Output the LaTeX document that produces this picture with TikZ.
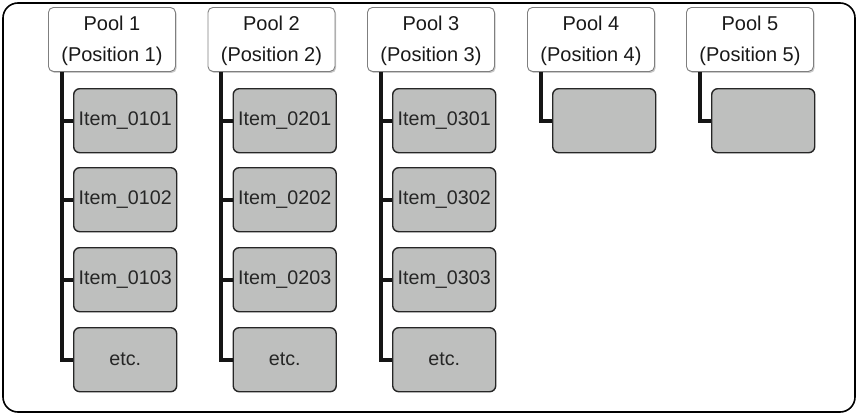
\documentclass[tikz,border=0pt]{standalone}
\usepackage{fontspec}
\setmainfont{Liberation Sans}
\usetikzlibrary{shadows,calc}
\definecolor{itemgray}{HTML}{BEBFBE}
\definecolor{poolline}{HTML}{7F7F7F}
\definecolor{spine}{HTML}{151515}
\begin{document}
\begin{tikzpicture}[x=1pt,y=-1pt,
  pool/.style={draw=poolline, line width=0.9pt, fill=white, rounded corners=5pt,
    minimum width=127pt, minimum height=64pt, anchor=north west, inner sep=0pt,
    drop shadow={shadow xshift=1.2pt, shadow yshift=-1.5pt, opacity=0.35, fill=black!60}},
  pooltext/.style={inner sep=0pt, align=center, text=black!90,
    font=\fontsize{20}{31}\selectfont},
  item/.style={draw=black!85, line width=1.4pt, fill=itemgray, rounded corners=6pt,
    minimum width=103pt, minimum height=64pt, anchor=north west, inner sep=0pt,
    font=\fontsize{19.7}{23}\selectfont, text=black!85},
  conn/.style={draw=spine, line width=4pt}
]
\useasboundingbox (0,0) rectangle (858,415);
\draw[line width=1.6pt, rounded corners=15pt] (3,3) rectangle (855,412);

% pool headers
\foreach \k/\x in {1/48,2/207.5,3/367,4/527,5/686}{
  \node[pool] (p\k) at (\x,7) {};
  \node[pooltext] (t\k) at ($(p\k.center)+(0,1.5)$) {Pool \k\\(Position \k)};
  \coordinate (s\k) at ($(p\k.south west)+(13.5,0)$);
}

% items of the first three pools
\foreach \k in {1,2,3}{
  \node[item] (i\k1) at ($(p\k.north west)+(25,81)$) {Item\_0\k01};
  \node[item] (i\k2) at ($(p\k.north west)+(25,160)$) {Item\_0\k02};
  \node[item] (i\k3) at ($(p\k.north west)+(25,240)$) {Item\_0\k03};
  \node[item] (i\k4) at ($(p\k.north west)+(25,320)$) {etc.};
  \draw[conn] (s\k) |- (i\k4.west);
  \foreach \j in {1,2,3}{
    \draw[conn] (s\k |- i\k\j.west) -- (i\k\j.west);
  }
}

% empty slots of pools 4 and 5
\foreach \k in {4,5}{
  \node[item] (i\k1) at ($(p\k.north west)+(25,81)$) {};
  \draw[conn] (s\k) |- (i\k1.west);
}
\end{tikzpicture}
\end{document}
